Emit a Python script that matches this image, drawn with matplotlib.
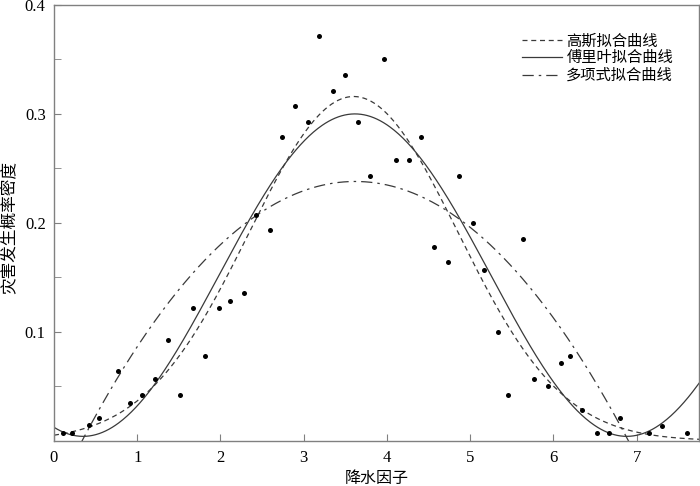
import numpy as np
import matplotlib
matplotlib.use("Agg")
import matplotlib.pyplot as plt

plt.rcParams['font.family'] = ['Liberation Serif', 'Noto Sans CJK SC', 'DejaVu Sans']

# ---- data ----
obs_x = [0.11, 0.22, 0.42, 0.54, 0.77, 0.91, 1.06, 1.21, 1.37, 1.51,
         1.67, 1.82, 1.98, 2.11, 2.28, 2.43, 2.59, 2.745, 2.89, 3.05,
         3.19, 3.35, 3.50, 3.65, 3.80, 3.96, 4.11, 4.26, 4.41, 4.565,
         4.73, 4.865, 5.03, 5.17, 5.33, 5.46, 5.63, 5.77, 5.94, 6.09,
         6.20, 6.34, 6.52, 6.67, 6.80, 7.15, 7.30, 7.61]
obs_y = [0.007, 0.007, 0.014, 0.021, 0.064, 0.035, 0.042, 0.057, 0.0925, 0.042,
         0.1216, 0.078, 0.1216, 0.1286, 0.1356, 0.207, 0.193, 0.279, 0.307, 0.293,
         0.3715, 0.3215, 0.336, 0.293, 0.2426, 0.350, 0.2575, 0.2575, 0.279, 0.178,
         0.164, 0.2426, 0.200, 0.157, 0.0997, 0.0424, 0.185, 0.057, 0.050, 0.0713,
         0.078, 0.028, 0.007, 0.007, 0.0207, 0.007, 0.0137, 0.007]

# fitted-curve coefficients (estimated from the drawn curves)
gauss_a, gauss_b, gauss_c = 0.316, 3.60, 1.77
fourier_a0, fourier_a1, fourier_b1, fourier_w = 0.152, -0.1397, -0.0489, 0.962
poly_coef = [-0.0221, 0.1600, -0.0516]

x_ticks = [0, 1, 2, 3, 4, 5, 6, 7]
y_ticks = [0.1, 0.2, 0.3, 0.4]
y_minor = [0.05, 0.15, 0.25, 0.35]
legend_labels = ['高斯拟合曲线', '傅里叶拟合曲线', '多项式拟合曲线']
x_label = '降水因子'
y_label = '灾害发生概率密度'

# ---- figure ----
fig = plt.figure(figsize=(7.0, 4.86), dpi=100)
ax = fig.add_axes([54/700, 1-440.7/486, 645/700, (440.7-5)/486])

xs = np.linspace(0, 7.75, 600)
g = gauss_a * np.exp(-((xs - gauss_b) / gauss_c) ** 2)
f = fourier_a0 + fourier_a1 * np.cos(fourier_w * xs) + fourier_b1 * np.sin(fourier_w * xs)
p = np.polyval(poly_coef, xs)

lc = '#3a3a3a'
ax.plot(xs, g, color=lc, lw=0.9, dashes=(4, 3), label=legend_labels[0])
ax.plot(xs, f, color=lc, lw=0.9, label=legend_labels[1])
ax.plot(xs, p, color=lc, lw=0.9, dashes=(9, 4, 2, 4), label=legend_labels[2])
ax.scatter(obs_x, obs_y, s=13, color='black', zorder=5, linewidths=0)

ax.set_xlim(0, 7.75)
ax.set_ylim(0, 0.4)
ax.set_xticks(x_ticks)
ax.set_xticklabels([str(t) for t in x_ticks])
ax.set_yticks(y_ticks)
ax.set_yticklabels([f'{t:.1f}' for t in y_ticks])
ax.set_yticks(y_minor, minor=True)

for s in ax.spines.values():
    s.set_color('#808080')
    s.set_linewidth(1.0)
ax.tick_params(axis='both', which='both', direction='in', color='#808080',
               labelsize=12)
ax.tick_params(axis='both', which='major', length=5)
ax.tick_params(axis='y', which='minor', length=5)
ax.tick_params(axis='x', pad=7)
ax.tick_params(axis='y', pad=6)

ax.set_xlabel(x_label, fontsize=11.5, labelpad=3)
fig.text(10/700, 1-228/486, y_label, rotation=90, ha='center', va='center',
         fontsize=12)

fig.legend(loc='upper left', bbox_to_anchor=(522/700, 1-34/486), frameon=False,
           fontsize=11, handlelength=2.6, handletextpad=0.3, labelspacing=0.2,
           borderpad=0, borderaxespad=0)

fig.savefig('out.png', dpi=100)
